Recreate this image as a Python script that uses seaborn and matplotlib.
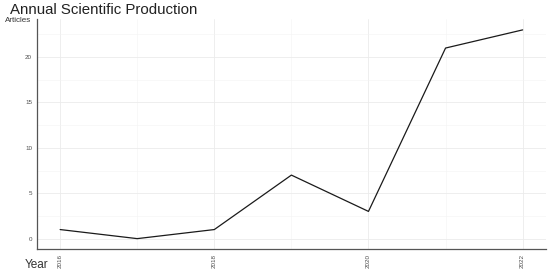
import matplotlib
matplotlib.use("Agg")
import matplotlib.pyplot as plt
import seaborn as sns
import pandas as pd
from matplotlib.ticker import MultipleLocator

years = [2016, 2017, 2018, 2019, 2020, 2021, 2022]
articles = [1, 0, 1, 7, 3, 21, 23]
x_ticks = [2016, 2018, 2020, 2022]
y_ticks = [0, 5, 10, 15, 20]

df = pd.DataFrame({"Year": years, "Articles": articles})

sns.set_style("white")
plt.rcParams["font.family"] = ["Liberation Sans", "DejaVu Sans"]

fig = plt.figure(figsize=(5.5, 2.74), dpi=100)
ax = fig.add_axes([0.0673, 0.091, 0.925, 0.838])

sns.lineplot(data=df, x="Year", y="Articles", color="#1a1a1a", linewidth=0.9, ax=ax)

ax.set_xlim(2015.7, 2022.3)
ax.set_ylim(-1.15, 24.15)
ax.set_xticks(x_ticks)
ax.set_yticks(y_ticks)
ax.xaxis.set_minor_locator(MultipleLocator(1))
ax.yaxis.set_minor_locator(MultipleLocator(2.5))
ax.grid(True, which="major", color="#ebebeb", linewidth=0.6)
ax.grid(True, which="minor", color="#f3f3f3", linewidth=0.4)
ax.set_axisbelow(True)

for s in ["top", "right"]:
    ax.spines[s].set_visible(False)
for s in ["left", "bottom"]:
    ax.spines[s].set_color("#555555")
    ax.spines[s].set_linewidth(0.9)

ax.tick_params(axis="both", which="major", labelsize=4.5, colors="#4d4d4d",
               length=2, width=0.5, pad=1.5)
ax.tick_params(axis="both", which="minor", length=0)
plt.setp(ax.get_xticklabels(), rotation=90)

ax.set_xlabel("")
ax.set_ylabel("")
fig.text(0.009, 0.927, "Articles", fontsize=5.8, color="#333333",
         ha="left", va="center")
fig.text(0.045, 0.01, "Year", fontsize=8.5, color="#333333", ha="left", va="bottom")
fig.text(0.018, 0.99, "Annual Scientific Production", fontsize=10.8, color="#222222",
         ha="left", va="top")

fig.savefig("out.png", dpi=100)
